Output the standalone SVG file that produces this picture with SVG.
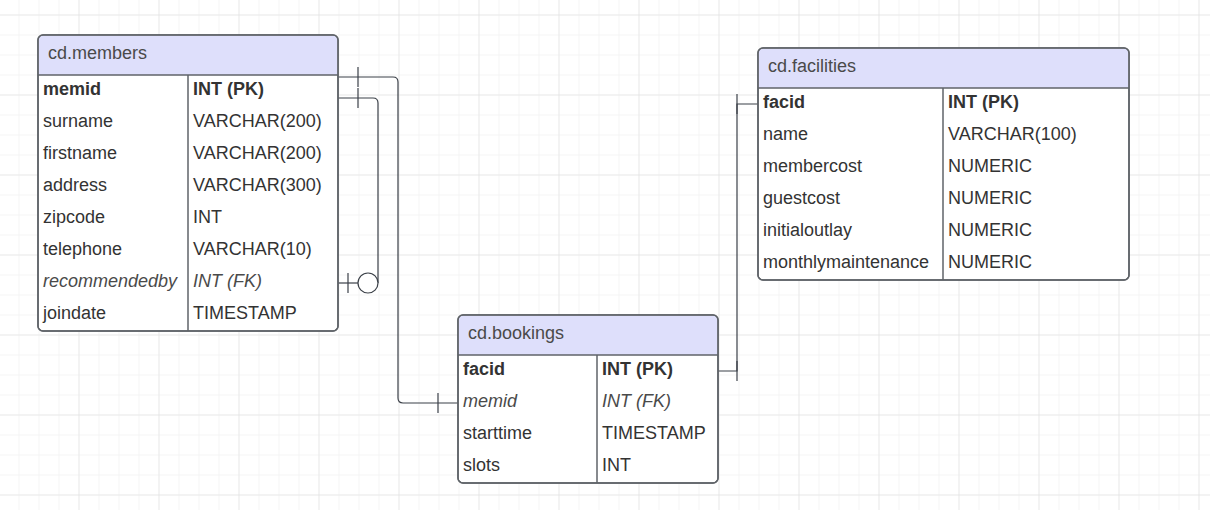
<svg xmlns="http://www.w3.org/2000/svg" width="1210" height="510" viewBox="0 0 1210 510">
  <defs>
    <pattern id="minor" x="18.5" y="14.5" width="20" height="20" patternUnits="userSpaceOnUse">
      <path d="M0 0V20M0 0H20" fill="none" stroke="#ececec" stroke-width="1"/>
    </pattern>
    <pattern id="major" x="78.5" y="14.5" width="80" height="80" patternUnits="userSpaceOnUse">
      <path d="M0 0V80M0 0H80" fill="none" stroke="#dedede" stroke-width="1"/>
    </pattern>
    <style>
      text { font-family: "Liberation Sans", Arial, sans-serif; font-size: 18px; fill: #333333; }
      .title { fill: #4a4a4a; }
      .pk { font-weight: bold; }
      .fk { font-style: italic; fill: #4a4a4a; }
      .box { fill: #ffffff; stroke: #5f6368; stroke-width: 1.5; }
      .head { fill: #dedffb; }
      .sep { stroke: #5f6368; stroke-width: 1.5; fill: none; }
      .conn path, .conn line, .conn circle { fill: none; stroke: #3b4048; stroke-width: 1.2; }
      .conn circle { fill: #ffffff; }
    </style>
  </defs>
  <rect width="1210" height="510" fill="#ffffff"/>
  <rect width="1210" height="510" fill="url(#minor)"/>
  <rect width="1210" height="510" fill="url(#major)"/>

  <g id="connectors" class="conn">
    <path d="M338 77 H393 Q398 77 398 82 V398 Q398 403 403 403 H458"/>
    <line x1="358" y1="67" x2="358" y2="87"/>
    <line x1="438" y1="393" x2="438" y2="413"/>
    <path d="M338 98 H373 Q378 98 378 103 V283"/>
    <circle cx="368" cy="283" r="10"/>
    <line x1="358" y1="283" x2="338" y2="283"/>
    <line x1="348" y1="273" x2="348" y2="293"/>
    <line x1="358" y1="88" x2="358" y2="108"/>
    <path d="M758 104 H737 V371 H718"/>
    <line x1="737" y1="94" x2="737" y2="114"/>
    <line x1="737" y1="361" x2="737" y2="381"/>
  </g>

  <g id="members">
    <rect class="box" x="38" y="35" width="300" height="296" rx="5"/>
    <path class="head" d="M43 35.75 H333 Q337.25 35.75 337.25 40 V75 H38.75 V40 Q38.75 35.75 43 35.75 Z"/>
    <rect x="38" y="35" width="300" height="296" rx="5" fill="none" stroke="#5f6368" stroke-width="1.5"/>
    <line class="sep" x1="38" y1="75" x2="338" y2="75"/>
    <line class="sep" x1="188" y1="75" x2="188" y2="331"/>
    <text class="title" x="48" y="58.5">cd.members</text>
    <text class="pk" x="43" y="95">memid</text><text class="pk" x="193" y="95">INT (PK)</text>
    <text x="43" y="127">surname</text><text x="193" y="127">VARCHAR(200)</text>
    <text x="43" y="159">firstname</text><text x="193" y="159">VARCHAR(200)</text>
    <text x="43" y="191">address</text><text x="193" y="191">VARCHAR(300)</text>
    <text x="43" y="223">zipcode</text><text x="193" y="223">INT</text>
    <text x="43" y="255">telephone</text><text x="193" y="255">VARCHAR(10)</text>
    <text class="fk" x="43" y="287">recommendedby</text><text class="fk" x="193" y="287">INT (FK)</text>
    <text x="43" y="319">joindate</text><text x="193" y="319">TIMESTAMP</text>
  </g>

  <g id="bookings">
    <rect class="box" x="458" y="315" width="260" height="168" rx="5"/>
    <path class="head" d="M463 315.75 H713 Q717.25 315.75 717.25 320 V355 H458.75 V320 Q458.75 315.75 463 315.75 Z"/>
    <rect x="458" y="315" width="260" height="168" rx="5" fill="none" stroke="#5f6368" stroke-width="1.5"/>
    <line class="sep" x1="458" y1="355" x2="718" y2="355"/>
    <line class="sep" x1="597" y1="355" x2="597" y2="483"/>
    <text class="title" x="468" y="338.5">cd.bookings</text>
    <text class="pk" x="463" y="375">facid</text><text class="pk" x="602" y="375">INT (PK)</text>
    <text class="fk" x="463" y="407">memid</text><text class="fk" x="602" y="407">INT (FK)</text>
    <text x="463" y="439">starttime</text><text x="602" y="439">TIMESTAMP</text>
    <text x="463" y="471">slots</text><text x="602" y="471">INT</text>
  </g>

  <g id="facilities">
    <rect class="box" x="758" y="48" width="371" height="232" rx="5"/>
    <path class="head" d="M763 48.75 H1124 Q1128.25 48.75 1128.25 53 V88 H758.75 V53 Q758.75 48.75 763 48.75 Z"/>
    <rect x="758" y="48" width="371" height="232" rx="5" fill="none" stroke="#5f6368" stroke-width="1.5"/>
    <line class="sep" x1="758" y1="88" x2="1129" y2="88"/>
    <line class="sep" x1="943" y1="88" x2="943" y2="280"/>
    <text class="title" x="768" y="72">cd.facilities</text>
    <text class="pk" x="763" y="108">facid</text><text class="pk" x="948" y="108">INT (PK)</text>
    <text x="763" y="140">name</text><text x="948" y="140">VARCHAR(100)</text>
    <text x="763" y="172">membercost</text><text x="948" y="172">NUMERIC</text>
    <text x="763" y="204">guestcost</text><text x="948" y="204">NUMERIC</text>
    <text x="763" y="236">initialoutlay</text><text x="948" y="236">NUMERIC</text>
    <text x="763" y="268">monthlymaintenance</text><text x="948" y="268">NUMERIC</text>
  </g>
</svg>
